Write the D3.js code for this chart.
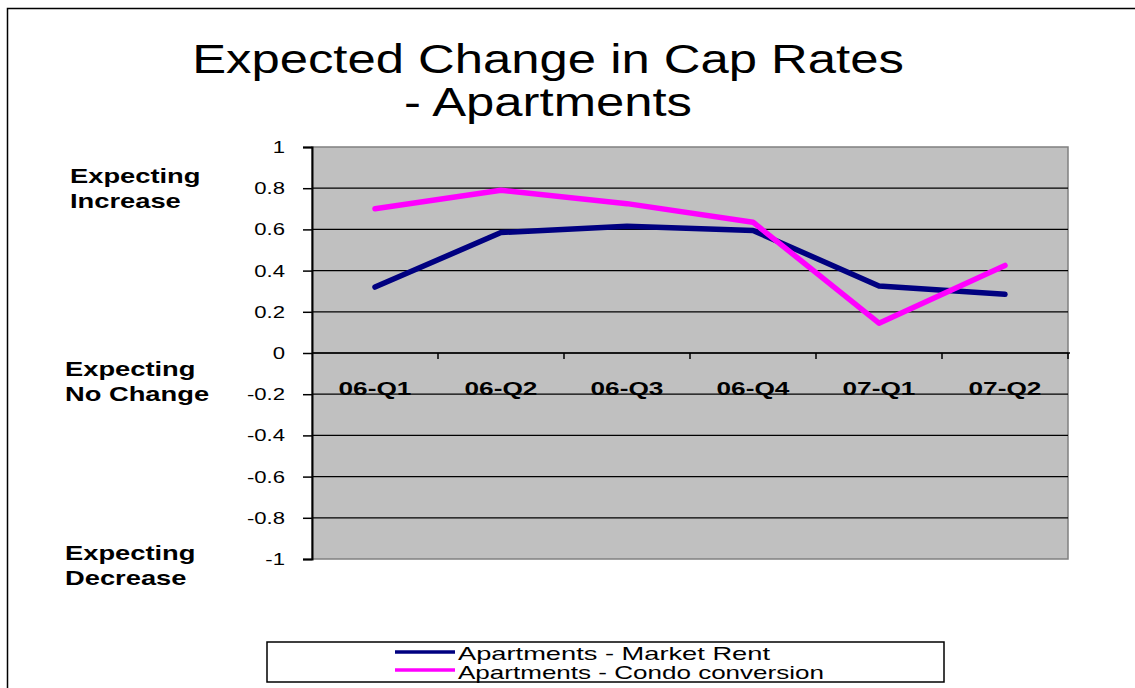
<!DOCTYPE html>
<html>
<head>
<meta charset="utf-8">
<script src="https://cdn.jsdelivr.net/npm/d3@7"></script>
<style>
  body { margin: 0; background: #fff; }
  svg { display: block; font-family: "Liberation Sans", Arial, sans-serif; }
</style>
</head>
<body>
<svg width="1135" height="688"></svg>
<script>
var svg = d3.select('svg');

// data
var quarters = ['06-Q1', '06-Q2', '06-Q3', '06-Q4', '07-Q1', '07-Q2'];
var marketRent = [0.32, 0.585, 0.615, 0.595, 0.325, 0.285];
var condoConversion = [0.70, 0.79, 0.725, 0.635, 0.145, 0.425];
var yTicks = [1, 0.8, 0.6, 0.4, 0.2, 0, -0.2, -0.4, -0.6, -0.8, -1];
var seriesNames = ['Apartments - Market Rent', 'Apartments - Condo conversion'];
var seriesColors = ['#000080', '#FF00FF'];

var plotLeft = 312, plotRight = 1068, plotTop = 147, plotBottom = 559;

var x = d3.scaleBand().domain(quarters).range([plotLeft, plotRight]);
var y = d3.scaleLinear().domain([-1, 1]).range([plotBottom, plotTop]);

// the original's text is drawn wider than the font, so stretch it
function stretch(sel, k) {
    sel.each(function(){
        var w = this.getComputedTextLength();
        d3.select(this).attr('textLength', w * k).attr('lengthAdjust', 'spacingAndGlyphs');
    });
}

// outer frame
svg.append('rect')
    .attr('x', 7.5).attr('y', 8.5)
    .attr('width', 1140).attr('height', 700)
    .attr('fill', 'none').attr('stroke', '#000').attr('stroke-width', 1.5);

// title
var t1 = svg.append('text').attr('x', 548).attr('y', 73)
    .attr('text-anchor', 'middle').attr('font-size', 40)
    .text('Expected Change in Cap Rates');
var t2 = svg.append('text').attr('x', 548).attr('y', 116)
    .attr('text-anchor', 'middle').attr('font-size', 40)
    .text('- Apartments');
stretch(t1, 1.27);
stretch(t2, 1.27);

// plot area
svg.append('rect')
    .attr('x', plotLeft).attr('y', plotTop)
    .attr('width', plotRight - plotLeft).attr('height', plotBottom - plotTop)
    .attr('fill', '#C0C0C0').attr('stroke', '#808080').attr('stroke-width', 1.5);

// gridlines
svg.selectAll('.grid')
    .data(yTicks.filter(function(d){ return d !== 1 && d !== -1; }))
    .enter()
    .append('line')
    .attr('x1', plotLeft).attr('x2', plotRight)
    .attr('y1', function(d){ return y(d); })
    .attr('y2', function(d){ return y(d); })
    .attr('stroke', '#000').attr('stroke-width', 1.2);

// y axis
var yAxis = svg.append('g')
    .attr('transform', 'translate(' + plotLeft + ',0)')
    .call(d3.axisLeft(y).tickValues(yTicks).tickSize(9).tickPadding(18)
        .tickFormat(function(d){ return String(+d.toFixed(1)); }));
yAxis.select('.domain').attr('stroke', '#000').attr('stroke-width', 2);
yAxis.selectAll('.tick line').attr('stroke', '#000').attr('stroke-width', 1.5);
yAxis.selectAll('.tick text')
    .attr('font-size', 17).attr('fill', '#000')
    .attr('font-family', '"Liberation Sans", Arial, sans-serif');
stretch(yAxis.selectAll('.tick text'), 1.3);

// x axis at zero
var xAxis = svg.append('g')
    .attr('transform', 'translate(0,' + y(0) + ')');
xAxis.append('line')
    .attr('x1', plotLeft).attr('x2', plotRight + 2)
    .attr('stroke', '#000').attr('stroke-width', 1.5);
xAxis.selectAll('.xtick')
    .data(quarters)
    .enter()
    .append('line')
    .attr('x1', function(d){ return x(d) + x.bandwidth(); })
    .attr('x2', function(d){ return x(d) + x.bandwidth(); })
    .attr('y1', 0).attr('y2', 6)
    .attr('stroke', '#000').attr('stroke-width', 1.5);
var xLabels = xAxis.selectAll('.xlabel')
    .data(quarters)
    .enter()
    .append('text')
    .attr('x', function(d){ return x(d) + x.bandwidth() / 2; })
    .attr('y', 42)
    .attr('text-anchor', 'middle')
    .attr('font-size', 19).attr('font-weight', 'bold')
    .text(function(d){ return d; });
stretch(xLabels, 1.38);

// side labels
var sideLabels = [
    {lines: ['Expecting', 'Increase'], x: 70, y: 183},
    {lines: ['Expecting', 'No Change'], x: 65, y: 376},
    {lines: ['Expecting', 'Decrease'], x: 65, y: 560}
];
sideLabels.forEach(function(s){
    s.lines.forEach(function(t, i){
        var lbl = svg.append('text')
            .attr('x', s.x).attr('y', s.y + i * 25)
            .attr('font-size', 21).attr('font-weight', 'bold')
            .text(t);
        stretch(lbl, 1.3);
    });
});

// lines
var line = d3.line()
    .x(function(d, i){ return x(quarters[i]) + x.bandwidth() / 2; })
    .y(function(d){ return y(d); });

[marketRent, condoConversion].forEach(function(series, k){
    svg.append('path')
        .datum(series)
        .attr('d', line)
        .attr('fill', 'none')
        .attr('stroke', seriesColors[k])
        .attr('stroke-width', 5.5)
        .attr('stroke-linecap', 'round')
        .attr('stroke-linejoin', 'round');
});

// legend
svg.append('rect')
    .attr('x', 267).attr('y', 642)
    .attr('width', 677).attr('height', 40)
    .attr('fill', '#fff').attr('stroke', '#000').attr('stroke-width', 1.5);
var legendWidths = [312, 366];
seriesNames.forEach(function(name, i){
    svg.append('line')
        .attr('x1', 395).attr('x2', 455)
        .attr('y1', 652 + i * 18).attr('y2', 652 + i * 18)
        .attr('stroke', seriesColors[i]).attr('stroke-width', 3.5);
    svg.append('text')
        .attr('x', 458).attr('y', 660 + i * 19)
        .attr('font-size', 19)
        .attr('textLength', legendWidths[i]).attr('lengthAdjust', 'spacingAndGlyphs')
        .text(name);
});
</script>
</body>
</html>
